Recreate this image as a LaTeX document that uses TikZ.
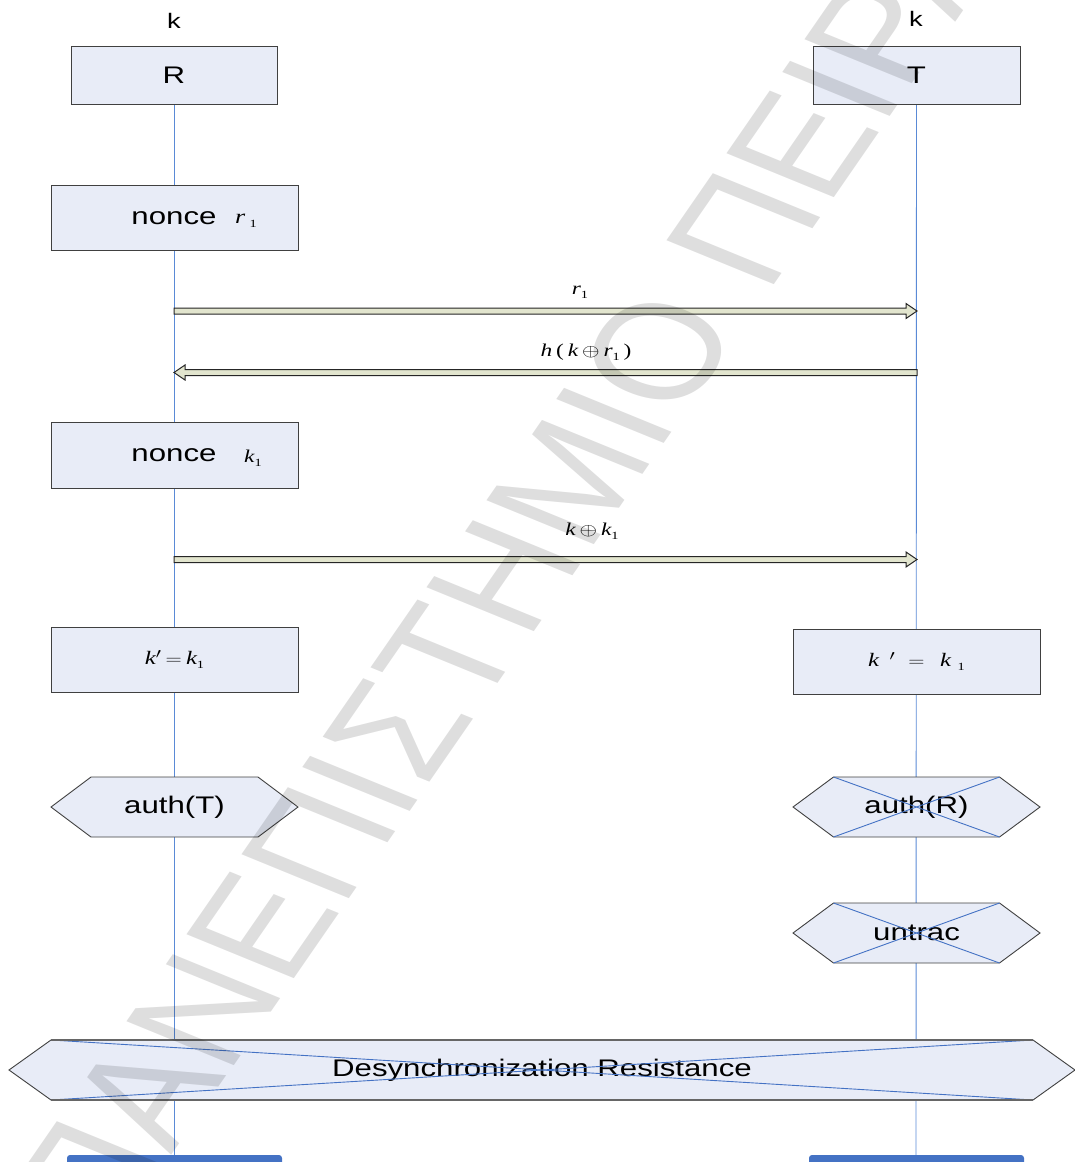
\documentclass[tikz,border=0pt]{standalone}
\usepackage{fontspec}
\setmainfont{Liberation Sans}
\newfontfamily\tms{Liberation Serif}
\usepackage{graphicx}
\usetikzlibrary{calc}
\definecolor{boxfill}{RGB}{232,236,247}
\definecolor{boxline}{RGB}{64,64,64}
\definecolor{lifeblue}{RGB}{90,138,214}
\definecolor{msgfill}{RGB}{226,229,206}
\definecolor{crossblue}{RGB}{68,114,196}
\definecolor{barblue}{RGB}{68,114,196}
\pgfdeclarelayer{bg}
\pgfdeclarelayer{fg}
\pgfsetlayers{bg,main,fg}
% horizontally widened lettering
\newcommand\wide[1]{\scalebox{1.3}[1]{#1}}
% italic variable and small subscript digit
\newcommand\mi[1]{{\tms\itshape #1}}
\newcommand\sbs[1]{\raisebox{-0.4ex}{\tms\upshape\fontsize{11}{12}\selectfont #1}}
% message arrows: hollow block arrow between two lifeline points
\newcommand\msgright[2]{\draw[msg] ($(#1)+(0,-3)$) -- ($(#2)+(-11,-3)$) -- ($(#2)+(-11,-7.5)$) -- (#2) -- ($(#2)+(-11,7.5)$) -- ($(#2)+(-11,3)$) -- ($(#1)+(0,3)$) -- cycle;}
\newcommand\msgleft[2]{\draw[msg] ($(#1)+(0,-3)$) -- ($(#2)+(11,-3)$) -- ($(#2)+(11,-7.5)$) -- (#2) -- ($(#2)+(11,7.5)$) -- ($(#2)+(11,3)$) -- ($(#1)+(0,3)$) -- cycle;}
% hexagon: name, cx, cy, half width, flat half width, text
\newcommand\hexa[6]{%
  \coordinate (#1) at (#2,#3);
  \draw[hex] ($(#1)+(-#4,0)$) -- ($(#1)+(-#5,-30)$) -- ($(#1)+(#5,-30)$) -- ($(#1)+(#4,0)$) -- ($(#1)+(#5,30)$) -- ($(#1)+(-#5,30)$) -- cycle;
  \node[lbl] (#1-t) at ($(#1)+(0,0)$) {\wide{#6}};}
% crossed-out marker over a hexagon: name, flat half width
\newcommand\crossout[2]{%
  \draw[crossl] ($(#1)+(-#2,-30)$) -- ($(#1)+(#2,30)$);
  \draw[crossl] ($(#1)+(#2,-30)$) -- ($(#1)+(-#2,30)$);}

\begin{document}
\begin{tikzpicture}[x=1pt,y=-1pt,
  stepbox/.style={draw=boxline, fill=boxfill, line width=0.9pt, inner sep=0pt},
  lbl/.style={inner sep=0pt, font=\fontsize{24}{28}\selectfont},
  toplbl/.style={inner sep=0pt, font=\fontsize{21}{24}\selectfont},
  mathlbl/.style={inner sep=0pt, font=\fontsize{18}{21}\selectfont},
  boxmath/.style={inner sep=0pt, font=\fontsize{19}{22}\selectfont},
  life/.style={draw=lifeblue, line width=0.9pt},
  msg/.style={draw=black!85, fill=msgfill, line width=1pt, line join=miter},
  hex/.style={draw=boxline, fill=boxfill, line width=0.9pt},
  crossl/.style={draw=crossblue, line width=0.9pt},
  bar/.style={fill=barblue, rounded corners=3pt, inner sep=0pt},
  wm/.style={inner sep=0pt, text=black, text opacity=0.13, font=\fontsize{136}{136}\selectfont},
]
\useasboundingbox (0,0) rectangle (1075,1162);
\clip (0,0) rectangle (1075,1162);

% participants
\node[toplbl] (kR) at (174,21) {\wide{k}};
\node[toplbl] (kT) at (916,19) {\wide{k}};
\node[stepbox, minimum width=206pt, minimum height=58pt, font=\fontsize{24}{28}\selectfont] (R) at (174,75) {\wide{R}};
\node[stepbox, minimum width=207pt, minimum height=58pt, font=\fontsize{24}{28}\selectfont] (T) at (916.5,75) {\wide{T}};
\coordinate (Rend) at (174,1162);
\coordinate (Tend) at (916,1162);

% reader: nonce r1
\node[stepbox, minimum width=247pt, minimum height=65pt] (n1) at (174.5,217.5) {};
\node[lbl] (n1a) at (174,218) {\wide{nonce}};
\node[boxmath, font=\fontsize{20}{22}\selectfont] (n1b) at (246,221) {\wide{\mi{r}\,\sbs{1}}};

% messages 1 and 2
\coordinate (m1a) at (174,311);
\coordinate (m1b) at (917,311);
\coordinate (m2a) at (917,372.5);
\coordinate (m2b) at (174,372.5);
\node[mathlbl] (m1l) at (580,292) {\wide{\mi{r}\sbs{1}}};
\node[mathlbl] (m2l) at (586,352) {\wide{\mi{h}\,{\tms(}\,\mi{k}\,$\oplus$\,\mi{r}\sbs{1}\,{\tms)}}};

% reader: nonce k1
\node[stepbox, minimum width=247pt, minimum height=66pt] (n2) at (174.5,455) {};
\node[lbl] (n2a) at (174,455) {\wide{nonce}};
\node[boxmath, font=\fontsize{18}{21}\selectfont] (n2b) at (253,458) {\wide{\mi{k}\sbs{1}}};

% message 3
\coordinate (m3a) at (174,559.5);
\coordinate (m3b) at (917,559.5);
\node[mathlbl] (m3l) at (592,531) {\wide{\mi{k}\,$\oplus$\,\mi{k}\sbs{1}}};

% key update on both sides
\node[stepbox, boxmath, minimum width=247pt, minimum height=65pt] (u1) at (174.5,659.5) {\wide{\mi{k}$'$\,$=$\,\mi{k}\sbs{1}}};
\node[stepbox, boxmath, minimum width=247pt, minimum height=65pt] (u2) at (916.5,661.5) {\wide{\mi{k}\hspace{8pt}$'$\hspace{10pt}$=$\hspace{12pt}\mi{k}\hspace{5pt}\sbs{1}}};

% security properties
\hexa{aT}{174.5}{807}{123.5}{83.5}{auth(T)}
\hexa{aR}{916.5}{807}{123.5}{83}{auth(R)}
\crossout{aR}{83}
\hexa{un}{916.5}{933}{123.5}{83}{untrac}
\crossout{un}{83}
\hexa{ds}{542}{1070}{533}{491}{Desynchronization Resistance}
\crossout{ds}{491}
\draw[draw=black!60, line width=1.6pt] ($(ds)+(-491,-30)$) -- ($(ds)+(491,-30)$);
\draw[draw=black!60, line width=1.6pt] ($(ds)+(-491,30)$) -- ($(ds)+(491,30)$);

% lifeline end bars
\node[bar, minimum width=215pt, minimum height=14pt] (bR) at (174.5,1162) {};
\node[bar, minimum width=215pt, minimum height=14pt] (bT) at (916.5,1162) {};

% arrows
\msgright{m1a}{m1b}
\msgleft{m2a}{m2b}
\msgright{m3a}{m3b}

\begin{pgfonlayer}{bg}
  \draw[life] (R.center) -- (Rend);
  \draw[life] (T.center) -- (Tend);
\end{pgfonlayer}

% diagonal watermark lettering, widened like the rest of the sheet
\begin{pgfonlayer}{fg}
  \begin{scope}[xscale=1.3, transform shape]
    \node[wm, rotate=62, anchor=base east] (wm1) at (522.9,420.9) {ΠΑΝΕΠΙΣΤΗΜΙ};
    \node[wm, rotate=62, anchor=base west] (wm2) at (522.9,420.9) {Ο ΠΕΙΡΑΙΩΣ};
  \end{scope}
\end{pgfonlayer}
\end{tikzpicture}
\end{document}
